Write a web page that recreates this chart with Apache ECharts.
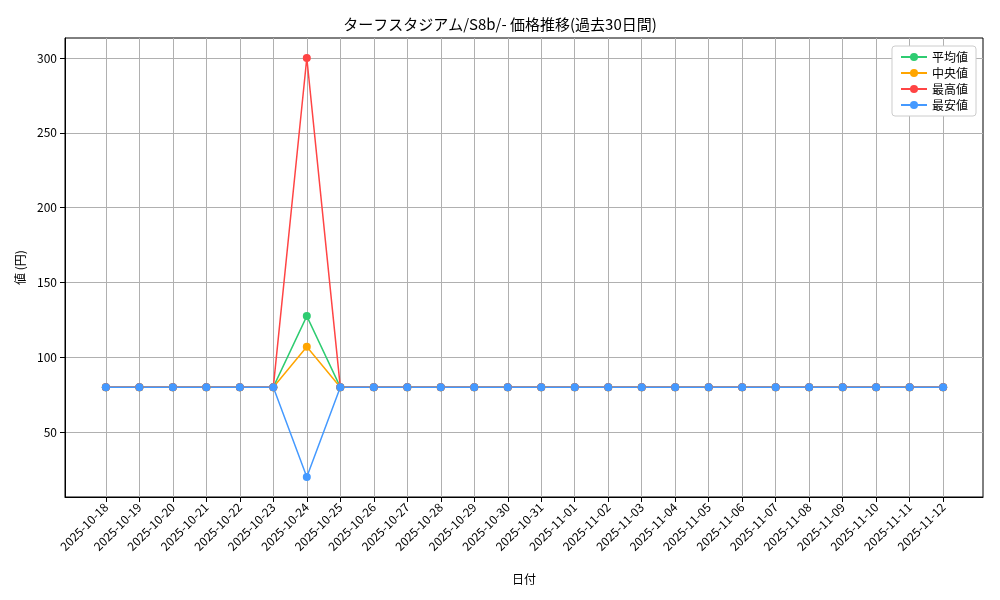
<!DOCTYPE html>
<html><head><meta charset="utf-8">
<script src="https://cdn.jsdelivr.net/npm/echarts@6/dist/echarts.min.js"></script>
<style>body{margin:0}#c{width:1000px;height:600px}</style>
</head><body><div id="c"></div>
<script>
var dates = ['2025-10-18','2025-10-19','2025-10-20','2025-10-21','2025-10-22','2025-10-23','2025-10-24','2025-10-25','2025-10-26','2025-10-27','2025-10-28','2025-10-29','2025-10-30','2025-10-31','2025-11-01','2025-11-02','2025-11-03','2025-11-04','2025-11-05','2025-11-06','2025-11-07','2025-11-08','2025-11-09','2025-11-10','2025-11-11','2025-11-12'];
var avgVals = [80,80,80,80,80,80,127.5,80,80,80,80,80,80,80,80,80,80,80,80,80,80,80,80,80,80,80];
var medVals = [80,80,80,80,80,80,107,80,80,80,80,80,80,80,80,80,80,80,80,80,80,80,80,80,80,80];
var maxVals = [80,80,80,80,80,80,300,80,80,80,80,80,80,80,80,80,80,80,80,80,80,80,80,80,80,80];
var minVals = [80,80,80,80,80,80,20,80,80,80,80,80,80,80,80,80,80,80,80,80,80,80,80,80,80,80];
var yTicks = [50,100,150,200,250,300];

var font = "'Noto Sans CJK JP', sans-serif";
var idx = dates.map(function(d,i){return i;});
function pts(v){ return v.map(function(y,i){return [i,y];}); }
function line(name, color, vals){
    return {name:name, type:'line', data:pts(vals), symbol:'circle', symbolSize:8,
        lineStyle:{color:color,width:1.5}, itemStyle:{color:color}};
}
var chart = echarts.init(document.getElementById('c'));
chart.setOption({
    animation:false,
    textStyle:{fontFamily:font},
    title:{text:'ターフスタジアム/S8b/- 価格推移(過去30日間)', left:'center', top:12,
        textStyle:{fontSize:15,fontWeight:'normal',color:'#000',fontFamily:font}},
    legend:{right:24, top:46, orient:'vertical', itemGap:4, itemWidth:26, itemHeight:10,
        backgroundColor:'#fff', borderColor:'#ccc', borderWidth:1, borderRadius:3, padding:[5,8],
        textStyle:{fontSize:12,color:'#000'},
        data:['平均値','中央値','最高値','最安値']},
    grid:{left:65, right:17, top:38, bottom:103, show:true, borderColor:'#000', borderWidth:1},
    xAxis:{type:'value', min:-1.22, max:26.19, name:'日付', nameLocation:'middle', nameGap:76,
        nameTextStyle:{color:'#000',fontSize:12},
        axisLine:{onZero:false, lineStyle:{color:'#000'}},
        axisTick:{show:true, customValues:idx, lineStyle:{color:'#000'}},
        axisLabel:{customValues:idx, rotate:45, color:'#000', fontSize:12,
            formatter:function(v){return dates[Math.round(v)];}},
        splitLine:{show:true, lineStyle:{color:'#b0b0b0'}}},
    yAxis:{type:'value', min:6.6, max:313.4, name:'値 (円)', nameLocation:'middle', nameGap:38,
        nameTextStyle:{color:'#000',fontSize:12},
        axisLine:{show:true, onZero:false, lineStyle:{color:'#000'}},
        axisTick:{show:true, customValues:yTicks, lineStyle:{color:'#000'}},
        axisLabel:{customValues:yTicks, color:'#000', fontSize:12},
        splitLine:{show:true, lineStyle:{color:'#b0b0b0'}}},
    series:[
        line('平均値','#2ecc71',avgVals),
        line('中央値','#ffa500',medVals),
        line('最高値','#ff4444',maxVals),
        line('最安値','#4499ff',minVals)
    ]
});
</script></body></html>
